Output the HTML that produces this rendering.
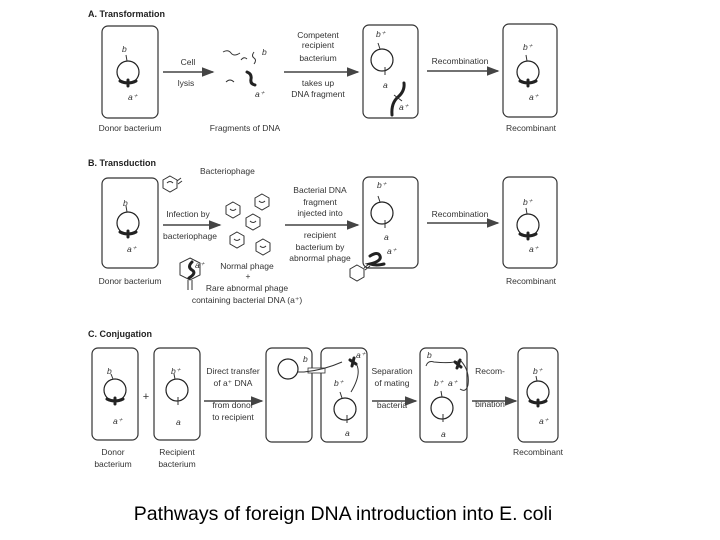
<!DOCTYPE html>
<html><head><meta charset="utf-8"><style>
body{margin:0;background:#fff;width:720px;height:540px;overflow:hidden}
svg{display:block}
text{font-family:"Liberation Sans",sans-serif;fill:#333;font-size:8.5px}
.t{font-weight:bold;font-size:9px;fill:#222}
.i{font-style:italic}
.c{text-anchor:middle}
.box{fill:none;stroke:#333;stroke-width:1.2}
.cir{fill:none;stroke:#222;stroke-width:1.2}
.ar{stroke:#444;stroke-width:1.6;marker-end:url(#ah)}
.th{fill:none;stroke:#222;stroke-width:3;stroke-linecap:round}
.tn{fill:none;stroke:#333;stroke-width:1}
</style></head><body>
<svg width="720" height="540" viewBox="0 0 720 540">
<defs><marker id="ah" markerWidth="8" markerHeight="6" refX="7" refY="3" orient="auto"><path d="M0,0L8,3L0,6z" fill="#444"/></marker></defs>

<!-- A -->
<text class="t" x="88" y="17">A. Transformation</text>
<rect class="box" x="102" y="26" width="56" height="92" rx="6"/>
<circle class="cir" cx="128" cy="72" r="11"/>
<path class="tn" d="M127,61 l-1,-6"/><path class="th" d="M120,81 q8,4 16,0 M128,80 v6"/>
<text class="i" x="122" y="52">b</text><text class="i" x="128" y="100">a⁺</text>
<text class="c" x="130" y="131">Donor bacterium</text>
<line class="ar" x1="163" y1="72" x2="213" y2="72"/>
<text class="c" x="188" y="65">Cell</text><text class="c" x="186" y="86">lysis</text>
<path class="tn" d="M223,52 q5,-3 8,1 t9,0 M241,60 q3,-4 6,-1 M254,52 q-3,4 0,6 t0,6 M226,82 q4,-4 8,0"/>
<path class="th" d="M247,72 q5,2 4,7 t4,6"/>
<text class="i" x="262" y="55">b</text><text class="i" x="255" y="97">a⁺</text>
<text class="c" x="245" y="131">Fragments of DNA</text>
<line class="ar" x1="284" y1="72" x2="358" y2="72"/>
<text class="c" x="318" y="38">Competent</text><text class="c" x="318" y="48">recipient</text><text class="c" x="318" y="61">bacterium</text>
<text class="c" x="318" y="86">takes up</text><text class="c" x="318" y="97">DNA fragment</text>
<rect class="box" x="363" y="25" width="55" height="93" rx="6"/>
<circle class="cir" cx="382" cy="60" r="11"/>
<path class="tn" d="M380,49 l-2,-6 M385,67 v8"/>
<text class="i" x="376" y="37">b⁺</text><text class="i" x="383" y="88">a</text>
<path class="th" d="M392,115 q-1,-12 6,-18 t6,-14"/><path class="tn" d="M394,95 l8,6"/>
<text class="i" x="399" y="110">a⁺</text>
<line class="ar" x1="427" y1="71" x2="498" y2="71"/>
<text class="c" x="460" y="64">Recombination</text>
<rect class="box" x="503" y="24" width="54" height="93" rx="6"/>
<circle class="cir" cx="528" cy="72" r="11"/>
<path class="tn" d="M527,61 l-1,-6"/><path class="th" d="M520,81 q8,4 16,0 M528,80 v6"/>
<text class="i" x="523" y="50">b⁺</text><text class="i" x="529" y="100">a⁺</text>
<text class="c" x="531" y="131">Recombinant</text>

<!-- B -->
<text class="t" x="88" y="166">B. Transduction</text>
<rect class="box" x="102" y="178" width="56" height="90" rx="6"/>
<circle class="cir" cx="128" cy="223" r="11"/>
<path class="tn" d="M127,212 l-1,-6"/><path class="th" d="M120,232 q8,4 16,0 M128,231 v6"/>
<text class="i" x="123" y="206">b</text><text class="i" x="127" y="252">a⁺</text>
<text class="c" x="130" y="284">Donor bacterium</text>
<g class="tn">
<polygon points="170,176 177,180 177,188 170,192 163,188 163,180"/>
<polygon points="233,202 240,206 240,214 233,218 226,214 226,206"/>
<polygon points="262,194 269,198 269,206 262,210 255,206 255,198"/>
<polygon points="253,214 260,218 260,226 253,230 246,226 246,218"/>
<polygon points="237,232 244,236 244,244 237,248 230,244 230,236"/>
<polygon points="263,239 270,243 270,251 263,255 256,251 256,243"/>
<polygon points="357,265 364,269 364,277 357,281 350,277 350,269"/>
<polygon points="190,258 200,263 200,275 190,280 180,275 180,263"/>
</g>
<path class="tn" d="M167,183 q3,-3 6,0 M230,209 q3,3 6,0 M259,201 q3,3 6,0 M250,221 q3,3 6,0 M234,239 q3,3 6,0 M260,246 q3,3 6,0 M177,181 l4,-3 M178,184 l4,-3 M188,280 v10 M192,280 v10 M364,268 l5,-4 M365,270 l5,-4"/>
<path class="th" d="M192,262 q-5,5 0,8 t-3,8"/>
<text class="i" x="195" y="268">a⁺</text>
<text x="200" y="174">Bacteriophage</text>
<line class="ar" x1="163" y1="225" x2="220" y2="225"/>
<text class="c" x="188" y="217">Infection by</text><text class="c" x="190" y="239">bacteriophage</text>
<text class="c" x="247" y="269">Normal phage</text><text class="c" x="248" y="279">+</text>
<text class="c" x="247" y="291">Rare abnormal phage</text><text class="c" x="247" y="303">containing bacterial DNA (a⁺)</text>
<line class="ar" x1="285" y1="225" x2="358" y2="225"/>
<text class="c" x="320" y="193">Bacterial DNA</text><text class="c" x="320" y="205">fragment</text><text class="c" x="320" y="216">injected into</text>
<text class="c" x="320" y="238">recipient</text><text class="c" x="320" y="250">bacterium by</text><text class="c" x="320" y="261">abnormal phage</text>
<rect class="box" x="363" y="177" width="55" height="91" rx="6"/>
<circle class="cir" cx="382" cy="213" r="11"/>
<path class="tn" d="M380,202 l-2,-6 M385,220 v8"/>
<text class="i" x="377" y="188">b⁺</text><text class="i" x="384" y="240">a</text>
<path class="th" d="M370,256 q8,-5 10,0 t-10,8 q6,2 14,0"/>
<text class="i" x="387" y="254">a⁺</text>
<line class="ar" x1="427" y1="223" x2="498" y2="223"/>
<text class="c" x="460" y="217">Recombination</text>
<rect class="box" x="503" y="177" width="54" height="91" rx="6"/>
<circle class="cir" cx="528" cy="225" r="11"/>
<path class="tn" d="M527,214 l-1,-6"/><path class="th" d="M520,234 q8,4 16,0 M528,233 v6"/>
<text class="i" x="523" y="205">b⁺</text><text class="i" x="529" y="252">a⁺</text>
<text class="c" x="531" y="284">Recombinant</text>

<!-- C -->
<text class="t" x="88" y="337">C. Conjugation</text>
<rect class="box" x="92" y="348" width="46" height="92" rx="6"/>
<circle class="cir" cx="115" cy="390" r="11"/>
<path class="tn" d="M113,379 l-2,-5"/><path class="th" d="M107,399 q8,4 16,0 M115,398 v6"/>
<text class="i" x="107" y="374">b</text><text class="i" x="113" y="424">a⁺</text>
<text class="c" x="113" y="455">Donor</text><text class="c" x="113" y="467">bacterium</text>
<text class="c" x="146" y="400" style="font-size:11px">+</text>
<rect class="box" x="154" y="348" width="46" height="92" rx="6"/>
<circle class="cir" cx="177" cy="390" r="11"/>
<path class="tn" d="M175,379 l-1,-5 M178,397 v8"/>
<text class="i" x="171" y="374">b⁺</text><text class="i" x="176" y="425">a</text>
<text class="c" x="177" y="455">Recipient</text><text class="c" x="177" y="467">bacterium</text>
<line class="ar" x1="204" y1="401" x2="262" y2="401"/>
<text class="c" x="233" y="374">Direct transfer</text><text class="c" x="233" y="386">of a⁺ DNA</text>
<text class="c" x="233" y="408">from donor</text><text class="c" x="233" y="420">to recipient</text>
<rect class="box" x="266" y="348" width="46" height="94" rx="6"/>
<rect class="box" x="321" y="348" width="46" height="94" rx="6"/>
<rect x="308" y="368" width="17" height="5" fill="#fff" stroke="#333" stroke-width="0.8"/>
<circle class="cir" cx="288" cy="369" r="10"/>
<path class="tn" d="M298,372 h6 q20,-2 38,-10 M355,362 q8,10 -4,30"/>
<path class="th" d="M350,360 l6,4 M354,358 l-2,8"/>
<text class="i" x="303" y="362">b</text><text class="i" x="356" y="358">a⁺</text>
<circle class="cir" cx="345" cy="409" r="11"/>
<path class="tn" d="M342,398 l-2,-6 M347,415 v8"/>
<text class="i" x="334" y="386">b⁺</text><text class="i" x="345" y="436">a</text>
<line class="ar" x1="372" y1="401" x2="416" y2="401"/>
<text class="c" x="392" y="374">Separation</text><text class="c" x="392" y="386">of mating</text><text class="c" x="392" y="408">bacteria</text>
<rect class="box" x="420" y="348" width="47" height="94" rx="6"/>
<circle class="cir" cx="442" cy="408" r="11"/>
<path class="tn" d="M442,397 l-1,-6 M443,414 v8 M426,366 q2,-6 8,-4 q20,2 26,-2 q10,10 8,25 q-2,8 -8,4"/>
<path class="th" d="M455,362 l6,5 M460,360 l-3,8"/>
<text class="i" x="427" y="358">b</text><text class="i" x="434" y="386">b⁺</text><text class="i" x="448" y="386">a⁺</text><text class="i" x="441" y="437">a</text>
<line class="ar" x1="472" y1="401" x2="516" y2="401"/>
<text class="c" x="490" y="374">Recom-</text><text class="c" x="490" y="407">bination</text>
<rect class="box" x="518" y="348" width="40" height="94" rx="6"/>
<circle class="cir" cx="538" cy="392" r="11"/>
<path class="tn" d="M537,381 l-1,-5"/><path class="th" d="M530,401 q8,4 16,0 M538,400 v6"/>
<text class="i" x="533" y="374">b⁺</text><text class="i" x="539" y="424">a⁺</text>
<text class="c" x="538" y="455">Recombinant</text>

<text x="343" y="520" style="font-size:19.5px;fill:#000" class="c">Pathways of foreign DNA introduction into E. coli</text>
</svg>
</body></html>
